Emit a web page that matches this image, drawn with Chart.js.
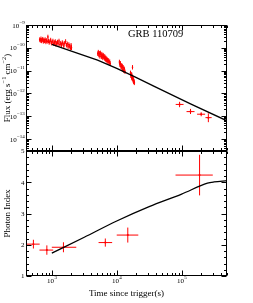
<!DOCTYPE html>
<html>
<head>
<meta charset="utf-8">
<script src="https://cdn.jsdelivr.net/npm/chart.js@4.4.1/dist/chart.umd.min.js"></script>
<style>
  html, body { margin: 0; padding: 0; background: #fff; }
  #wrap { position: relative; width: 253px; height: 303px; }
  canvas { position: absolute; left: 0; top: 0; }
</style>
</head>
<body>
<div id="wrap">
  <canvas id="flux" width="253" height="303"></canvas>
  <canvas id="index" width="253" height="303"></canvas>
</div>
<script>
// GRB 110709 - X-ray light curve (top) and photon index (bottom)

// axis ranges
const timeMin = 400, timeMax = 5e5;
const fluxMin = 3.3e-15, fluxMax = 1e-9;
const indexMin = 1, indexMax = 5;

// tick labels
const timeTickExps = [3, 4, 5];
const fluxTickExps = [-9, -10, -11, -12, -13, -14];
const indexTicks = [1, 2, 3, 4, 5];

// first orbit (dense)
const burstTimes = [650, 665, 680, 695, 710, 725, 740, 755, 770, 790,
  810, 830, 850, 870, 890, 910, 935, 960, 985, 1010,
  1040, 1070, 1100, 1130, 1160, 1190, 1220, 1250, 1290, 1330,
  1370, 1410, 1450, 1490, 1530, 1580, 1630, 1680, 1730, 1780,
  1830, 1880, 1930, 1980, 2010];
const burstFlux = [2.3e-10, 2.1e-10, 2.5e-10, 2.0e-10, 2.2e-10, 2.4e-10, 1.9e-10, 2.2e-10, 2.0e-10, 2.3e-10,
  1.8e-10, 2.1e-10, 1.9e-10, 3.0e-10, 2.0e-10, 1.7e-10, 1.9e-10, 2.2e-10, 1.6e-10, 1.8e-10,
  2.0e-10, 1.5e-10, 1.7e-10, 1.9e-10, 1.4e-10, 1.6e-10, 1.8e-10, 1.5e-10, 2.0e-10, 1.4e-10,
  1.6e-10, 1.3e-10, 1.7e-10, 1.5e-10, 1.2e-10, 1.6e-10, 1.9e-10, 1.3e-10, 1.5e-10, 1.1e-10,
  1.4e-10, 1.2e-10, 0.95e-10, 1.3e-10, 1.0e-10];

// later orbits (dense)
const orbitTimes = [5100, 5200, 5300, 5400, 5500, 5600, 5700, 5800, 5900, 6000,
  6100, 6200, 6300, 6400, 6500, 6600, 6700, 6800, 6900, 7000,
  7100, 7200, 7350, 7500, 7650, 7800, 7950,
  11000, 11200, 11400, 11600, 11800, 12000, 12200, 12400, 12600, 12800, 13100, 13400,
  16300, 16500, 16700, 16900, 17100, 17300, 17500, 17600, 17800, 18000, 18200, 18500, 18700];
const orbitFlux = [5.5e-11, 6.5e-11, 4.8e-11, 5.8e-11, 4.2e-11, 6.0e-11, 5.0e-11, 4.0e-11, 5.3e-11, 4.5e-11,
  3.6e-11, 4.8e-11, 3.9e-11, 4.3e-11, 3.4e-11, 4.0e-11, 3.1e-11, 3.6e-11, 2.9e-11, 3.3e-11,
  2.6e-11, 3.0e-11, 2.4e-11, 2.8e-11, 2.2e-11, 2.5e-11, 2.0e-11,
  2.4e-11, 1.8e-11, 2.1e-11, 1.5e-11, 1.7e-11, 1.3e-11, 1.6e-11, 1.1e-11, 1.4e-11, 1.0e-11, 1.2e-11, 0.9e-11,
  8e-12, 6e-12, 7e-12, 5e-12, 6.5e-12, 4.5e-12, 1.4e-11, 5e-12, 3.8e-12, 4.2e-12, 3.2e-12, 3.5e-12, 2.9e-12];

// late binned points
const lateTimes = [9.3e4, 1.37e5, 2.0e5, 2.58e5];
const lateTimeLo = [8.1e4, 1.19e5, 1.73e5, 2.33e5];
const lateTimeHi = [1.07e5, 1.58e5, 2.3e5, 2.9e5];
const lateFlux = [3.3e-13, 1.6e-13, 1.23e-13, 8.7e-14];
const lateFluxLo = [2.5e-13, 1.25e-13, 1.0e-13, 5.5e-14];
const lateFluxHi = [4.3e-13, 2.1e-13, 1.5e-13, 1.35e-13];

// model curve, flux
const modelTimes = [1000, 2000, 5070, 1e4, 1.87e4, 4e4, 1.37e5, 5e5];
const modelFlux = [1.4e-10, 7.2e-11, 2.9e-11, 1.26e-11, 5.5e-12, 1.9e-12, 3.5e-13, 6.3e-14];

// photon index
const indexTimes = [520, 838, 1510, 6670, 1.48e4, 1.89e5];
const indexTimeLo = [410, 645, 1000, 5250, 1.0e4, 8.05e4];
const indexTimeHi = [650, 1050, 2380, 8500, 2.15e4, 3.02e5];
const indexValues = [2.02, 1.83, 1.92, 2.07, 2.31, 4.23];
const indexErr = [0.14, 0.15, 0.16, 0.13, 0.24, 0.65];

// model curve, photon index
const indexModelTimes = [1000, 3162, 1e4, 3.16e4, 1e5, 2.5e5, 3.16e5, 5e5];
const indexModelValues = [1.73, 2.24, 2.76, 3.22, 3.62, 3.97, 4.01, 4.05];

const RED = 'rgb(255,0,0)';
const SERIF = '"Liberation Serif", "DejaVu Serif", serif';
const denseErr = 1.25;

function pts(xs, ys) {
  return xs.map((x, i) => ({ x, y: ys[i] }));
}

// error bars, drawn under the model line
const errorBars = {
  id: 'errorBars',
  beforeDatasetsDraw(chart) {
    const { ctx, chartArea: a, scales: { x, y } } = chart;
    ctx.save();
    ctx.beginPath();
    ctx.rect(a.left, a.top, a.right - a.left, a.bottom - a.top);
    ctx.clip();
    ctx.strokeStyle = RED;
    ctx.lineWidth = 1;
    chart.data.datasets.forEach(ds => {
      if (!ds.err) return;
      ds.data.forEach((p, i) => {
        const e = ds.err(i, p);
        const px = x.getPixelForValue(p.x), py = y.getPixelForValue(p.y);
        ctx.beginPath();
        ctx.moveTo(x.getPixelForValue(e.xLo), py);
        ctx.lineTo(x.getPixelForValue(e.xHi), py);
        ctx.moveTo(px, y.getPixelForValue(e.yLo));
        ctx.lineTo(px, y.getPixelForValue(e.yHi));
        ctx.stroke();
      });
    });
    ctx.restore();
  }
};

function logTicks(min, max) {
  const out = [];
  for (let e = Math.floor(Math.log10(min)); e <= Math.ceil(Math.log10(max)); e++) {
    for (let m = 1; m <= 9; m++) {
      const v = m * Math.pow(10, e);
      if (v >= min * 0.999 && v <= max * 1.001) out.push({ v, major: m === 1 });
    }
  }
  return out;
}

function drawPow(ctx, base, exp, x, y, align) {
  ctx.font = '7px ' + SERIF;
  const bw = ctx.measureText(base).width;
  ctx.font = '5px ' + SERIF;
  const ew = ctx.measureText(exp).width;
  const left = align === 'right' ? x - bw - ew : x - (bw + ew) / 2;
  ctx.textAlign = 'left';
  ctx.textBaseline = 'alphabetic';
  ctx.font = '7px ' + SERIF;
  ctx.fillText(base, left, y + 2.5);
  ctx.font = '5px ' + SERIF;
  ctx.fillText(exp, left + bw + 0.3, y - 1.5);
}

// pieces: [text, isSuperscript]
function drawRich(ctx, pieces, cx, cy, size) {
  const widths = pieces.map(([t, sup]) => {
    ctx.font = (sup ? size * 0.7 : size) + 'px ' + SERIF;
    return ctx.measureText(t).width;
  });
  let x = cx - widths.reduce((s, w) => s + w, 0) / 2;
  ctx.textAlign = 'left';
  ctx.textBaseline = 'alphabetic';
  pieces.forEach(([t, sup], i) => {
    ctx.font = (sup ? size * 0.7 : size) + 'px ' + SERIF;
    ctx.fillText(t, x, sup ? cy - size * 0.4 : cy);
    x += widths[i];
  });
}

// frame with inward ticks on every side
function makeFrame(yTicks, labels) {
  return {
    id: 'frame',
    afterDraw(chart) {
      const { ctx, chartArea: a, scales: { x, y } } = chart;
      const L = Math.round(a.left) + 0.5, R = Math.round(a.right) - 0.5;
      const T = Math.round(a.top) + 0.5, B = Math.round(a.bottom) - 0.5;
      ctx.save();
      ctx.strokeStyle = '#000';
      ctx.lineWidth = 1;
      ctx.strokeRect(L, T, R - L, B - T);
      ctx.beginPath();
      logTicks(timeMin, timeMax).forEach(t => {
        const px = Math.round(x.getPixelForValue(t.v)) + 0.5;
        const len = t.major ? 5 : 2.5;
        ctx.moveTo(px, T); ctx.lineTo(px, T + len);
        ctx.moveTo(px, B); ctx.lineTo(px, B - len);
      });
      yTicks.forEach(t => {
        const py = Math.round(y.getPixelForValue(t.v)) + 0.5;
        const len = t.major ? 5 : 2.5;
        ctx.moveTo(L, py); ctx.lineTo(L + len, py);
        ctx.moveTo(R, py); ctx.lineTo(R - len, py);
      });
      ctx.stroke();
      ctx.fillStyle = '#000';
      labels(ctx, a, x, y);
      ctx.restore();
    }
  };
}

const fluxYTicks = logTicks(fluxMin, fluxMax);
const indexYTicks = [];
for (let k = 0; k <= 20; k++) {
  indexYTicks.push({ v: indexMin + k * 0.2, major: k % 5 === 0 });
}

const baseOptions = (yType, yMin, yMax, padding) => ({
  responsive: false,
  animation: false,
  devicePixelRatio: 1,
  layout: { padding },
  plugins: { legend: { display: false }, tooltip: { enabled: false } },
  scales: {
    x: { type: 'logarithmic', min: timeMin, max: timeMax, display: false },
    y: { type: yType, min: yMin, max: yMax, display: false }
  }
});

new Chart(document.getElementById('flux'), {
  type: 'scatter',
  data: {
    datasets: [
      { data: pts(modelTimes, modelFlux), showLine: true, borderColor: '#000', borderWidth: 1.3, pointRadius: 0 },
      { data: pts(burstTimes, burstFlux), pointRadius: 0.8, backgroundColor: RED, borderWidth: 0,
        err: (i, p) => ({ xLo: p.x / 1.012, xHi: p.x * 1.012, yLo: p.y / denseErr, yHi: p.y * denseErr }) },
      { data: pts(orbitTimes, orbitFlux), pointRadius: 0.8, backgroundColor: RED, borderWidth: 0,
        err: (i, p) => ({ xLo: p.x / 1.01, xHi: p.x * 1.01, yLo: p.y / denseErr, yHi: p.y * denseErr }) },
      { data: pts(lateTimes, lateFlux), pointRadius: 1, backgroundColor: RED, borderWidth: 0,
        err: i => ({ xLo: lateTimeLo[i], xHi: lateTimeHi[i], yLo: lateFluxLo[i], yHi: lateFluxHi[i] }) }
    ]
  },
  options: baseOptions('logarithmic', fluxMin, fluxMax, { left: 26, right: 26, top: 25, bottom: 152 }),
  plugins: [errorBars, makeFrame(fluxYTicks, (ctx, a, x, y) => {
    fluxTickExps.forEach(e => {
      drawPow(ctx, '10', '\u2212' + Math.abs(e), 24.5, y.getPixelForValue(Math.pow(10, e)), 'right');
    });
    ctx.font = '10.5px ' + SERIF;
    ctx.textAlign = 'left';
    ctx.textBaseline = 'alphabetic';
    ctx.fillText('GRB 110709', 128, 36.5);
    ctx.save();
    ctx.translate(10, (a.top + a.bottom) / 2);
    ctx.rotate(-Math.PI / 2);
    drawRich(ctx, [['Flux (erg s', false], ['\u22121', true], [' cm', false], ['\u22122', true], [')', false]], 0, 0, 9);
    ctx.restore();
  })]
});

new Chart(document.getElementById('index'), {
  type: 'scatter',
  data: {
    datasets: [
      { data: pts(indexModelTimes, indexModelValues), showLine: true, borderColor: '#000', borderWidth: 1.3,
        pointRadius: 0, cubicInterpolationMode: 'monotone' },
      { data: pts(indexTimes, indexValues), pointRadius: 1, backgroundColor: RED, borderWidth: 0,
        err: (i, p) => ({ xLo: indexTimeLo[i], xHi: indexTimeHi[i], yLo: p.y - indexErr[i], yHi: p.y + indexErr[i] }) }
    ]
  },
  options: baseOptions('linear', indexMin, indexMax, { left: 26, right: 26, top: 151, bottom: 27 }),
  plugins: [errorBars, makeFrame(indexYTicks, (ctx, a, x, y) => {
    ctx.font = '7px ' + SERIF;
    ctx.textAlign = 'right';
    ctx.textBaseline = 'middle';
    indexTicks.forEach(v => ctx.fillText(String(v), 24.5, y.getPixelForValue(v) + 0.5));
    timeTickExps.forEach(e => {
      drawPow(ctx, '10', String(e), x.getPixelForValue(Math.pow(10, e)), a.bottom + 4.5, 'center');
    });
    ctx.font = '9px ' + SERIF;
    ctx.textAlign = 'center';
    ctx.textBaseline = 'alphabetic';
    ctx.fillText('Time since trigger(s)', (a.left + a.right) / 2, 296);
    ctx.save();
    ctx.translate(10, (a.top + a.bottom) / 2);
    ctx.rotate(-Math.PI / 2);
    ctx.textBaseline = 'alphabetic';
    ctx.fillText('Photon Index', 0, 0);
    ctx.restore();
  })]
});
</script>
</body>
</html>
